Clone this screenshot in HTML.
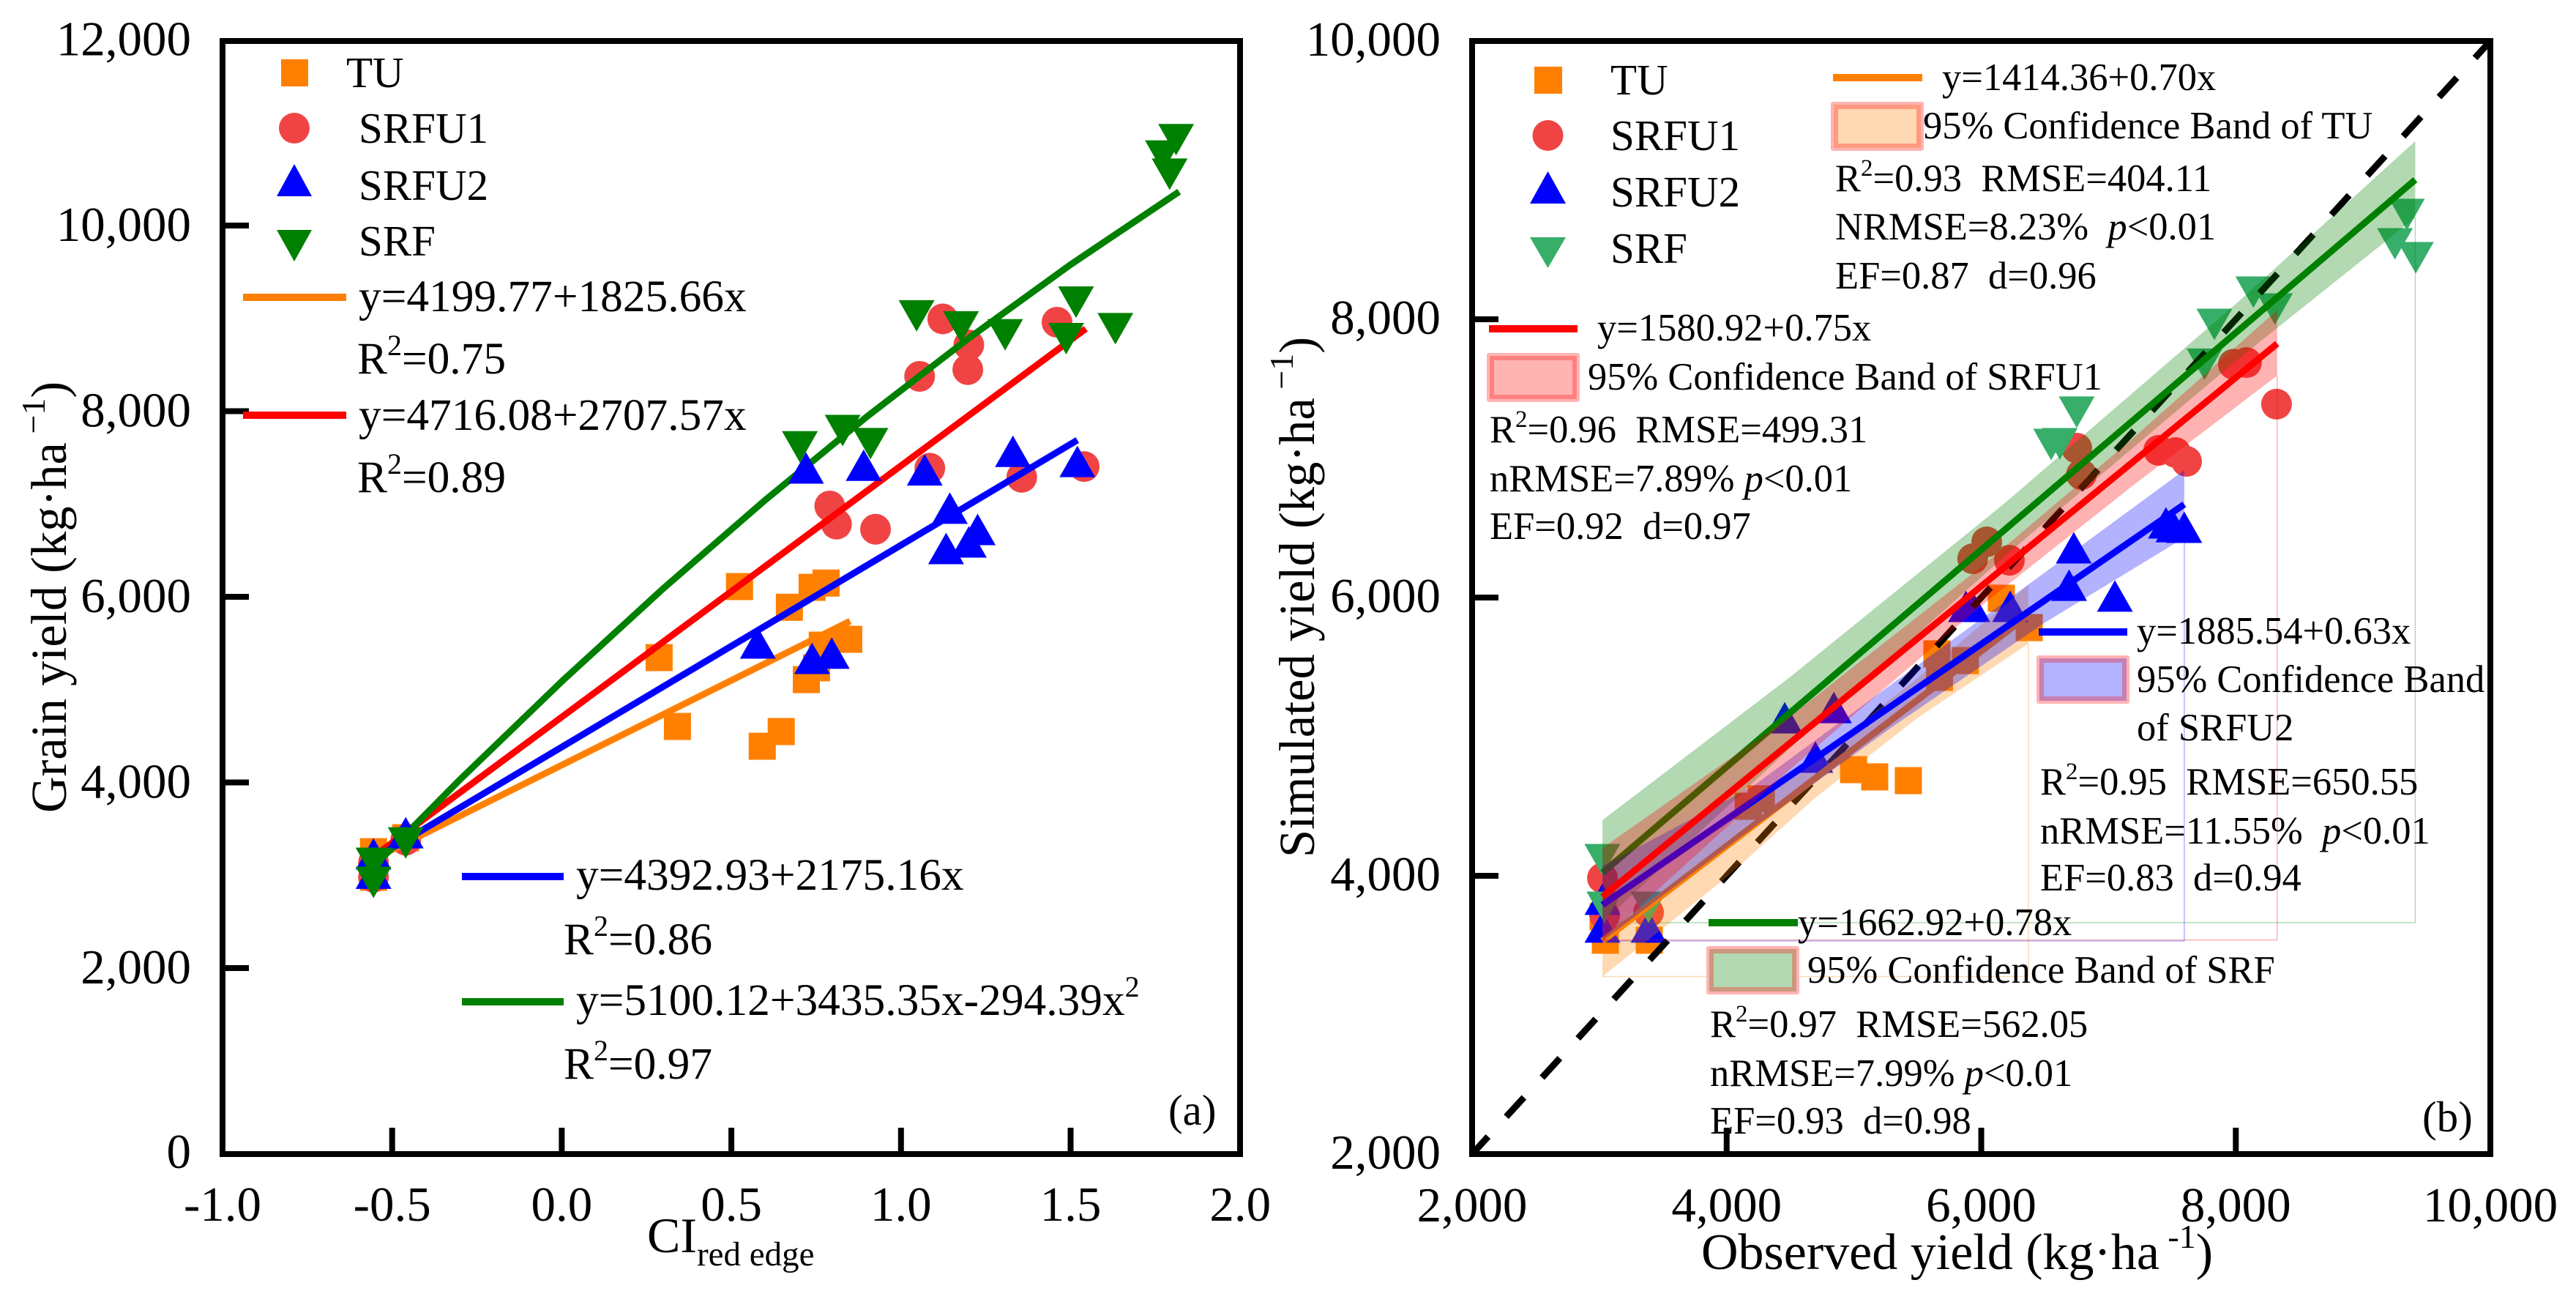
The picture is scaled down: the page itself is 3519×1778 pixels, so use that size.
<!DOCTYPE html>
<html lang="en">
<head>
<meta charset="utf-8">
<title>Grain yield vs CI red edge and simulated vs observed yield</title>
<style>
html,body{margin:0;padding:0;background:#fff;}
svg{display:block;}
text{font-family:"Liberation Serif",serif;fill:#000;white-space:pre;}
.tick{font-size:67px;}
.title{font-size:68.5px;}
.leg-a{font-size:61.4px;}
.leg-name{font-size:59px;}
.leg-b{font-size:52.5px;}
</style>
</head>
<body>
<svg id="figure" xmlns="http://www.w3.org/2000/svg" width="3519" height="1778" viewBox="0 0 3519 1778">
<defs>
<clipPath id="clip-b"><rect x="2011" y="56" width="1391" height="1520"/></clipPath>
</defs>
<rect x="0" y="0" width="3519" height="1778" fill="#fff"/>

<g id="marks-a"></g>
<g id="marks-b" clip-path="url(#clip-b)"></g>

<g id="axes" fill="none" stroke="#000" stroke-width="8">
<rect x="304" y="56" width="1390" height="1520"/>
<rect x="2011" y="56" width="1391" height="1520"/>
</g>
<g id="ticks"></g>
<g id="tick-labels"></g>

<text class="title" transform="translate(90,1110) rotate(-90)">Grain yield (kg·ha<tspan font-size="46" dy="-29"> −1</tspan><tspan dy="29">)</tspan></text>
<text x="884" y="1710" font-size="68">CI<tspan font-size="47" dy="18">red edge</tspan></text>
<text class="title" transform="translate(1795,1171) rotate(-90)">Simulated yield (kg·ha<tspan font-size="46" dy="-29"> −1</tspan><tspan dy="29">)</tspan></text>
<text x="2324" y="1733" font-size="70">Observed yield (kg·ha<tspan font-size="46" dy="-29"> -1</tspan><tspan dy="29">)</tspan></text>
<text x="1596" y="1536" font-size="59">(a)</text>
<text x="3309" y="1545" font-size="59">(b)</text>

<g>
<rect x="384" y="81" width="37" height="37" fill="#ff8000"/>
<text class="leg-name" x="473" y="119">TU</text>
<circle cx="402" cy="175" r="21" fill="#f04444"/>
<text class="leg-name" x="490" y="195">SRFU1</text>
<polygon points="402,224 426,268 378,268" fill="#0000ff"/>
<text class="leg-name" x="490" y="273">SRFU2</text>
<polygon points="378,314 426,314 402,357" fill="#008000"/>
<text class="leg-name" x="490" y="349">SRF</text>
<rect x="332" y="401" width="141" height="10" fill="#ff8000"/>
<text class="leg-a" x="490" y="425">y=4199.77+1825.66x</text>
<text class="leg-a" x="488" y="510">R<tspan font-size="40" dy="-25">2</tspan><tspan dy="25">=0.75</tspan></text>
<rect x="332" y="562" width="141" height="10" fill="#ff0000"/>
<text class="leg-a" x="490" y="587">y=4716.08+2707.57x</text>
<text class="leg-a" x="488" y="672">R<tspan font-size="40" dy="-25">2</tspan><tspan dy="25">=0.89</tspan></text>
<rect x="631" y="1192" width="139" height="10" fill="#0000ff"/>
<text class="leg-a" x="787" y="1215">y=4392.93+2175.16x</text>
<text class="leg-a" x="770" y="1303">R<tspan font-size="40" dy="-25">2</tspan><tspan dy="25">=0.86</tspan></text>
<rect x="631" y="1363" width="139" height="10" fill="#008000"/>
<text class="leg-a" x="787" y="1386">y=5100.12+3435.35x-294.39x<tspan font-size="40" dy="-25">2</tspan></text>
<text class="leg-a" x="770" y="1473">R<tspan font-size="40" dy="-25">2</tspan><tspan dy="25">=0.97</tspan></text>
</g>

<g>
<rect x="2096" y="91" width="38" height="37" fill="#ff8000"/>
<text class="leg-name" x="2200" y="129">TU</text>
<circle cx="2114.5" cy="185" r="21" fill="#f04444"/>
<text class="leg-name" x="2200" y="205">SRFU1</text>
<polygon points="2114.5,234 2139,278 2090,278" fill="#0000ff"/>
<text class="leg-name" x="2200" y="282">SRFU2</text>
<polygon points="2090,324 2139,324 2114.5,366" fill="#38ae6b"/>
<text class="leg-name" x="2200" y="359">SRF</text>

<rect x="2504" y="101" width="122" height="10" fill="#ff8000"/>
<text class="leg-b" x="2653" y="123">y=1414.36+0.70x</text>
<g><rect x="2501" y="139" width="127" height="67" rx="3" fill="#ffb3b3"/><rect x="2505" y="143" width="119" height="59" fill="#ff9980"/><rect x="2511" y="149" width="107" height="47" fill="#ffd9b3"/></g>
<text class="leg-b" x="2627" y="189">95% Confidence Band of TU</text>
<text class="leg-b" x="2507" y="261">R<tspan font-size="33" dy="-21">2</tspan><tspan dy="21">=0.93  RMSE=404.11</tspan></text>
<text class="leg-b" x="2507" y="327">NRMSE=8.23%  <tspan font-style="italic">p</tspan>&lt;0.01</text>
<text class="leg-b" x="2507" y="394">EF=0.87  d=0.96</text>

<rect x="2034" y="444" width="121" height="10" fill="#ff0000"/>
<text class="leg-b" x="2182" y="465">y=1580.92+0.75x</text>
<g><rect x="2031" y="482" width="127" height="67" rx="3" fill="#ffb3b3"/><rect x="2035" y="486" width="119" height="59" fill="#ff8080"/><rect x="2041" y="492" width="107" height="47" fill="#ffb3b3"/></g>
<text class="leg-b" x="2169" y="532">95% Confidence Band of SRFU1</text>
<text class="leg-b" x="2035" y="604">R<tspan font-size="33" dy="-21">2</tspan><tspan dy="21">=0.96  RMSE=499.31</tspan></text>
<text class="leg-b" x="2035" y="671">nRMSE=7.89% <tspan font-style="italic">p</tspan>&lt;0.01</text>
<text class="leg-b" x="2035" y="736">EF=0.92  d=0.97</text>

<rect x="2785" y="858" width="121" height="10" fill="#0000ff"/>
<text class="leg-b" x="2919" y="879">y=1885.54+0.63x</text>
<g><rect x="2782" y="895" width="127" height="66" rx="3" fill="#ffb3b3"/><rect x="2786" y="899" width="119" height="58" fill="#c87fb2"/><rect x="2792" y="905" width="107" height="46" fill="#b3b3ff"/></g>
<text class="leg-b" x="2919" y="945">95% Confidence Band</text>
<text class="leg-b" x="2919" y="1011">of SRFU2</text>
<text class="leg-b" x="2787" y="1085">R<tspan font-size="33" dy="-21">2</tspan><tspan dy="21">=0.95  RMSE=650.55</tspan></text>
<text class="leg-b" x="2787" y="1152">nRMSE=11.55%  <tspan font-style="italic">p</tspan>&lt;0.01</text>
<text class="leg-b" x="2787" y="1216">EF=0.83  d=0.94</text>

<rect x="2334" y="1255" width="122" height="10" fill="#008000"/>
<text class="leg-b" x="2456" y="1277">y=1662.92+0.78x</text>
<g><rect x="2331" y="1292" width="127" height="66" rx="3" fill="#ffb3b3"/><rect x="2335" y="1296" width="119" height="58" fill="#ca987d"/><rect x="2341" y="1302" width="107" height="46" fill="#b3d9b3"/></g>
<text class="leg-b" x="2469" y="1342">95% Confidence Band of SRF</text>
<text class="leg-b" x="2336" y="1416">R<tspan font-size="33" dy="-21">2</tspan><tspan dy="21">=0.97  RMSE=562.05</tspan></text>
<text class="leg-b" x="2336" y="1483">nRMSE=7.99% <tspan font-style="italic">p</tspan>&lt;0.01</text>
<text class="leg-b" x="2336" y="1548">EF=0.93  d=0.98</text>
</g>
</svg>

<script>
// Panel (a) observed points: CI red edge vs grain yield
const aTuX = [0.524,0.738,0.779,0.671,0.287,0.846,0.768,0.751,0.721,0.341,0.647,0.591,-0.555,-0.555,-0.46];
const aTuY = [6122,6114,6160,5899,5357,5554,5491,5247,5120,4615,4560,4402,3266,2990,3416];
const aSrfu1X = [0.79,0.81,0.925,1.055,1.085,1.123,1.2,1.197,1.356,1.46,1.54,-0.555,-0.555,-0.46];
const aSrfu1Y = [6990,6795,6740,8387,7397,9006,8725,8460,7300,8970,7415,3150,2990,3390];
const aSrfu2X = [0.796,0.738,0.578,1.133,1.2,1.226,1.144,0.72,0.89,1.07,1.33,1.52,-0.555,-0.555,-0.46];
const aSrfu2Y = [5405,5349,5515,6533,6604,6738,6967,7400,7430,7380,7580,7470,3243,3035,3470];
const aSrfX = [0.702,0.828,0.91,1.046,1.177,1.307,1.516,1.487,1.632,1.772,1.811,1.792,-0.555,-0.555,-0.46];
const aSrfY = [7627,7803,7662,9038,8919,8834,9186,8793,8900,10760,10937,10565,3140,2935,3360];
// Panel (a) fitted curves
const aFitTuX = [-0.56,0.85];
const aFitTuY = [3177,5750];
const aFitSrfu1X = [-0.56,1.545];
const aFitSrfu1Y = [3200,8900];
const aFitSrfu2X = [-0.56,1.52];
const aFitSrfu2Y = [3175,7700];
const aFitSrfX = [-0.56,-0.3,0,0.3,0.6,0.9,1.2,1.5,1.82];
const aFitSrfY = [3084,4043,5100,6104,7055,7954,8798,9591,10377];
// Panel (b) observed vs simulated points
const bTuX = [3047,3392,3029,4997,5163,5427,4169,4272,5672,5652,6158,6377,5875];
const bTuY = [3537,3537,3705,4763,4711,4684,4500,4553,5426,5595,5995,5784,5547];
const bSrfu1X = [8320,7981,8084,7394,7527,7613,6750,6787,6043,5933,6221,3024,3041,3386];
const bSrfu1Y = [7390,7677,7689,7058,7042,6979,7074,6884,6400,6279,6268,3984,3716,3737];
const bSrfu2X = [7451,7510,7595,6727,6690,7050,5880,5930,6227,4456,4842,4697,3024,3024,3386];
const bSrfu2Y = [6537,6510,6505,6358,6089,6011,5937,5937,5937,5136,5210,4853,3832,3632,3632];
const bSrfX = [9344,9250,9414,8138,8307,7832,7754,6750,6549,6617,3023,3040,3386];
const bSrfY = [8753,8542,8442,8195,8074,7963,7677,7332,7100,7105,4116,3774,3774];
// Panel (b) fit lines and 95% confidence bands
const bFitTuX = [3024,6370];
const bFitTuY = [3531,5873];
const bFitSrfu1X = [3024,8325];
const bFitSrfu1Y = [3849,7825];
const bFitSrfu2X = [3024,7595];
const bFitSrfu2Y = [3791,6670];
const bFitSrfX = [3024,9410];
const bFitSrfY = [4022,9003];
const bBandTuX = [3024,4000,4700,5500,6370];
const bBandTuLow = [3276,3990,4564,5135,5668];
const bBandTuHigh = [3790,4380,4850,5420,6089];
const bBandSrfu1X = [3024,4500,6000,7200,8325];
const bBandSrfu1Low = [3539,4766,5941,6811,7595];
const bBandSrfu1High = [4200,5146,6221,7151,8066];
const bBandSrfu2X = [3024,4200,5300,6500,7595];
const bBandSrfu2Low = [3532,4340,5070,5820,6430];
const bBandSrfu2High = [4070,4640,5380,6180,6916];
const bBandSrfX = [3024,4500,6200,8000,9410];
const bBandSrfLow = [3663,4920,6310,7700,8730];
const bBandSrfHigh = [4400,5430,6690,8110,9280];
const bRefX = [2000,10000];
const bRefY = [2000,10000];
// Axis ticks
const aXTicks = [-1,-0.5,0,0.5,1,1.5,2];
const aXTickLabels = ['-1.0','-0.5','0.0','0.5','1.0','1.5','2.0'];
const aYTicks = [0,2000,4000,6000,8000,10000,12000];
const aYTickLabels = ['0','2,000','4,000','6,000','8,000','10,000','12,000'];
const bTicks = [2000,4000,6000,8000,10000];
const bTickLabels = ['2,000','4,000','6,000','8,000','10,000'];

const NS = 'http://www.w3.org/2000/svg';
const TU_COLOR = '#ff8000', SRFU1_COLOR = '#f04444', SRFU2_COLOR = '#0000ff', SRF_A_COLOR = '#008000', SRF_B_COLOR = '#38ae6b';

function ax(v){ return 304 + (v + 1) * 463.4; }
function ay(v){ return 1577 - v * 0.12675; }
function bx(v){ return 2011 + (v - 2000) * 0.17388; }
function by(v){ return 1576 - (v - 2000) * 0.19; }

function drawMarkers(parent, kind, xs, ys, sx, sy, color, name){
  xs.forEach(function(v, i){
    const cx = sx(v), cy = sy(ys[i]);
    let el;
    if (kind === 'circle'){
      el = document.createElementNS(NS, 'circle');
      el.setAttribute('cx', cx);
      el.setAttribute('cy', cy);
      el.setAttribute('r', 21);
    } else if (kind === 'square'){
      el = document.createElementNS(NS, 'rect');
      el.setAttribute('x', cx - 18.5);
      el.setAttribute('y', cy - 18.5);
      el.setAttribute('width', 37);
      el.setAttribute('height', 37);
    } else {
      el = document.createElementNS(NS, 'polygon');
      const pts = kind === 'up'
        ? [[cx, cy - 21.5], [cx + 24.5, cy + 21.5], [cx - 24.5, cy + 21.5]]
        : [[cx - 24.5, cy - 21.5], [cx + 24.5, cy - 21.5], [cx, cy + 21.5]];
      el.setAttribute('points', pts.map(function(p){ return p.join(','); }).join(' '));
    }
    el.setAttribute('fill', color);
    
    
    parent.appendChild(el);
  });
}

function drawPolyline(parent, xs, ys, sx, sy, color, width, name){
  const el = document.createElementNS(NS, 'polyline');
  el.setAttribute('points', xs.map(function(v, i){ return sx(v) + ',' + sy(ys[i]); }).join(' '));
  el.setAttribute('fill', 'none');
  el.setAttribute('stroke', color);
  el.setAttribute('stroke-width', width);
  
  
  parent.appendChild(el);
  return el;
}

function drawBand(parent, xs, low, high, color, name){
  const up = xs.map(function(v, i){ return bx(v) + ',' + by(high[i]); });
  const down = xs.map(function(v, i){ return bx(v) + ',' + by(low[i]); }).reverse();
  const el = document.createElementNS(NS, 'polygon');
  el.setAttribute('points', up.concat(down).join(' '));
  el.setAttribute('fill', color);
  el.setAttribute('fill-opacity', 0.3);
  
  
  parent.appendChild(el);
  const last = xs.length - 1;
  const edge = document.createElementNS(NS, 'polyline');
  edge.setAttribute('points', bx(xs[last]) + ',' + by(low[last]) + ' ' + bx(xs[last]) + ',' + by(low[0]) + ' ' + bx(xs[0]) + ',' + by(low[0]));
  edge.setAttribute('fill', 'none');
  edge.setAttribute('stroke', color);
  edge.setAttribute('stroke-opacity', 0.3);
  edge.setAttribute('stroke-width', 1.5);
  
  
  parent.appendChild(edge);
}

function addTick(x1, y1, x2, y2, name){
  const el = document.createElementNS(NS, 'line');
  el.setAttribute('x1', x1);
  el.setAttribute('y1', y1);
  el.setAttribute('x2', x2);
  el.setAttribute('y2', y2);
  el.setAttribute('stroke', '#000');
  el.setAttribute('stroke-width', 8);
  
  
  document.getElementById('ticks').appendChild(el);
}

function addLabel(x, y, anchor, str, name){
  const el = document.createElementNS(NS, 'text');
  el.setAttribute('x', x);
  el.setAttribute('y', y);
  el.setAttribute('text-anchor', anchor);
  el.setAttribute('class', 'tick');
  
  
  el.textContent = str;
  document.getElementById('tick-labels').appendChild(el);
}

const gA = document.getElementById('marks-a');
drawMarkers(gA, 'square', aTuX, aTuY, ax, ay, TU_COLOR, 'point-a-tu');
drawMarkers(gA, 'circle', aSrfu1X, aSrfu1Y, ax, ay, SRFU1_COLOR, 'point-a-srfu1');
drawPolyline(gA, aFitTuX, aFitTuY, ax, ay, TU_COLOR, 9, 'fit-line-a-tu');
drawPolyline(gA, aFitSrfu1X, aFitSrfu1Y, ax, ay, '#ff0000', 9, 'fit-line-a-srfu1');
drawPolyline(gA, aFitSrfu2X, aFitSrfu2Y, ax, ay, SRFU2_COLOR, 9, 'fit-line-a-srfu2');
drawPolyline(gA, aFitSrfX, aFitSrfY, ax, ay, SRF_A_COLOR, 9, 'fit-curve-a-srf');
drawMarkers(gA, 'up', aSrfu2X, aSrfu2Y, ax, ay, SRFU2_COLOR, 'point-a-srfu2');
drawMarkers(gA, 'down', aSrfX, aSrfY, ax, ay, SRF_A_COLOR, 'point-a-srf');

const gB = document.getElementById('marks-b');
drawMarkers(gB, 'square', bTuX, bTuY, bx, by, TU_COLOR, 'point-b-tu');
drawMarkers(gB, 'circle', bSrfu1X, bSrfu1Y, bx, by, SRFU1_COLOR, 'point-b-srfu1');
drawMarkers(gB, 'up', bSrfu2X, bSrfu2Y, bx, by, SRFU2_COLOR, 'point-b-srfu2');
drawMarkers(gB, 'down', bSrfX, bSrfY, bx, by, SRF_B_COLOR, 'point-b-srf');
const refLine = drawPolyline(gB, bRefX, bRefY, bx, by, '#000', 9, 'one-to-one-line');
refLine.setAttribute('stroke-dasharray', '36 36.6');
refLine.setAttribute('stroke-dashoffset', '3.6');
drawBand(gB, bBandSrfX, bBandSrfLow, bBandSrfHigh, '#008000', 'confidence-band-srf');
drawPolyline(gB, bFitSrfX, bFitSrfY, bx, by, '#008000', 9, 'fit-line-b-srf');
drawBand(gB, bBandTuX, bBandTuLow, bBandTuHigh, '#ff8000', 'confidence-band-tu');
drawPolyline(gB, bFitTuX, bFitTuY, bx, by, '#ff8000', 9, 'fit-line-b-tu');
drawBand(gB, bBandSrfu2X, bBandSrfu2Low, bBandSrfu2High, '#0000ff', 'confidence-band-srfu2');
drawPolyline(gB, bFitSrfu2X, bFitSrfu2Y, bx, by, '#0000ff', 9, 'fit-line-b-srfu2');
drawBand(gB, bBandSrfu1X, bBandSrfu1Low, bBandSrfu1High, '#ff0000', 'confidence-band-srfu1');
drawPolyline(gB, bFitSrfu1X, bFitSrfu1Y, bx, by, '#ff0000', 9, 'fit-line-b-srfu1');

aXTicks.forEach(function(v, i){
  if (i > 0 && i < aXTicks.length - 1) addTick(ax(v), 1576, ax(v), 1540, 'x-tick-a');
  addLabel(ax(v), 1667, 'middle', aXTickLabels[i], 'x-tick-label-a');
});
aYTicks.forEach(function(v, i){
  if (i > 0 && i < aYTicks.length - 1) addTick(304, ay(v) - 1.5, 340, ay(v) - 1.5, 'y-tick-a');
  addLabel(261, v === 0 ? ay(v) + 18 : ay(v) + 19.5, 'end', aYTickLabels[i], 'y-tick-label-a');
});
bTicks.forEach(function(v, i){
  if (i > 0 && i < bTicks.length - 1){
    addTick(bx(v), 1576, bx(v), 1540, 'x-tick-b');
    addTick(2011, by(v), 2047, by(v), 'y-tick-b');
  }
  addLabel(bx(v), 1668, 'middle', bTickLabels[i], 'x-tick-label-b');
  addLabel(1968, by(v) + 20, 'end', bTickLabels[i], 'y-tick-label-b');
});
</script>
</body>
</html>
